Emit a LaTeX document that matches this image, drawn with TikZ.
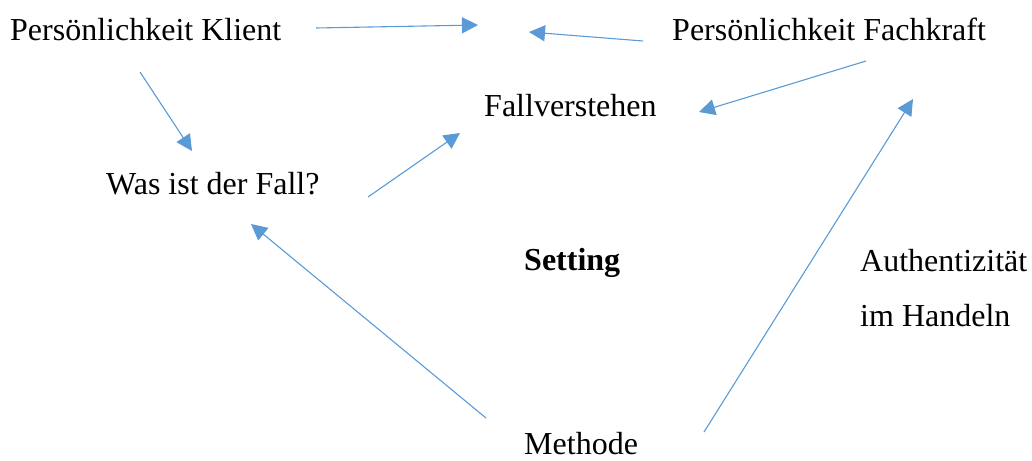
\documentclass[tikz,border=0pt]{standalone}
\usepackage{fontspec}
\setmainfont{Liberation Serif}
\usetikzlibrary{arrows.meta}
\definecolor{arrowblue}{HTML}{5B9BD5}
\tikzset{
  lbl/.style={anchor=base west, inner sep=0pt, font=\fontsize{32}{38}\selectfont},
  conn/.style={draw=arrowblue, line width=1.1pt, -{Triangle[length=16pt,width=16pt]}, arrowblue}
}
\begin{document}
\begin{tikzpicture}[x=1pt,y=-1pt]
\useasboundingbox (0,0) rectangle (1032,460);
% labels
\node[lbl] (klient) at (10,41) {Persönlichkeit Klient};
\node[lbl] (fachkraft) at (672,41) {Persönlichkeit Fachkraft};
\node[lbl] (fallv) at (484,116) {Fallverstehen};
\node[lbl] (wasist) at (106,194) {Was ist der Fall?};
\node[lbl, font=\fontsize{32}{38}\selectfont\bfseries] (setting) at (524,270) {Setting};
\node[lbl] (auth) at (860,271) {Authentizität};
\node[lbl] (handeln) at (860,326) {im Handeln};
\node[lbl] (methode) at (524,454) {Methode};
% arrow endpoints
\coordinate (a1s) at (316,28);  \coordinate (a1e) at (478,25);
\coordinate (a2s) at (643,41);  \coordinate (a2e) at (529,32);
\coordinate (a3s) at (140,72);  \coordinate (a3e) at (192,151);
\coordinate (a4s) at (368,197); \coordinate (a4e) at (460,133);
\coordinate (a5s) at (866,61);  \coordinate (a5e) at (699,112);
\coordinate (a6s) at (486,418); \coordinate (a6e) at (251,224);
\coordinate (a7s) at (704,432); \coordinate (a7e) at (913,99);
% connectors
\draw[conn] (a1s) -- (a1e);
\draw[conn] (a2s) -- (a2e);
\draw[conn] (a3s) -- (a3e);
\draw[conn] (a4s) -- (a4e);
\draw[conn] (a5s) -- (a5e);
\draw[conn] (a6s) -- (a6e);
\draw[conn] (a7s) -- (a7e);
\end{tikzpicture}
\end{document}
